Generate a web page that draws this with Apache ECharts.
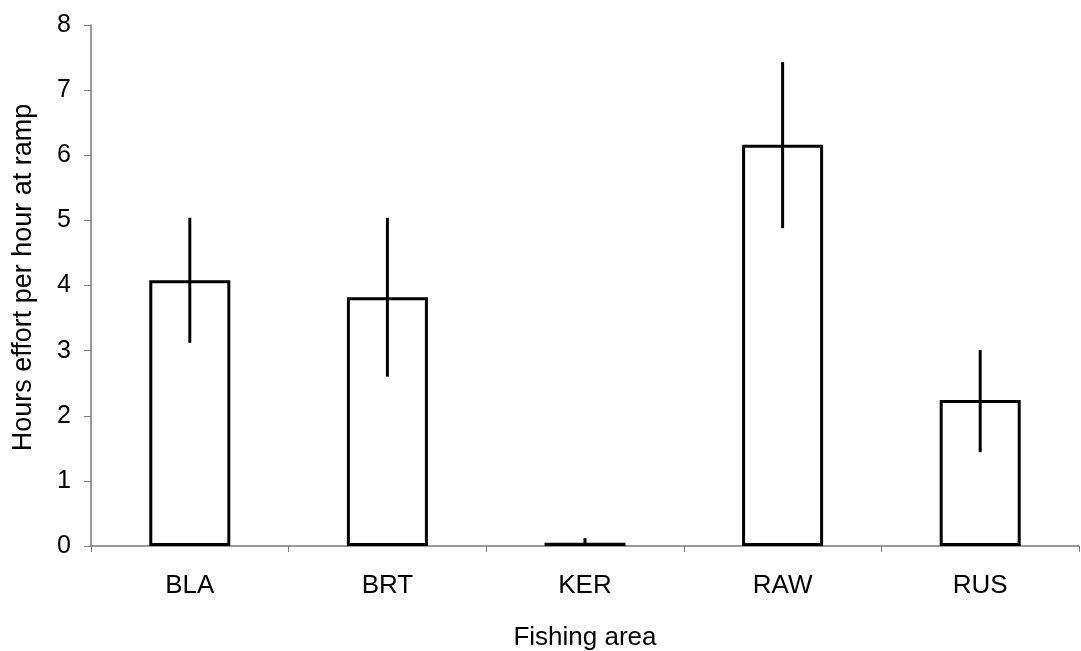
<!DOCTYPE html>
<html>
<head>
<meta charset="utf-8">
<script src="https://cdn.jsdelivr.net/npm/echarts@6/dist/echarts.min.js"></script>
<style>html,body{margin:0;padding:0;background:#fff;}#c{width:1081px;height:651px;}</style>
</head>
<body>
<div id="c"></div>
<script>
const categories = ['BLA', 'BRT', 'KER', 'RAW', 'RUS'];
const means = [4.08, 3.82, 0.05, 6.16, 2.24];
const upper = [5.04, 5.04, 0.12, 7.43, 3.01];
const lower = [3.12, 2.60, 0.00, 4.88, 1.44];
const yTicks = [0, 1, 2, 3, 4, 5, 6, 7, 8];

const chart = echarts.init(document.getElementById('c'));
const font = 'Liberation Sans, Arial, sans-serif';
chart.setOption({
  animation: false,
  backgroundColor: '#fff',
  grid: { left: 91, right: 2, top: 25, bottom: 105, containLabel: false, outerBoundsMode: 'none' },
  xAxis: {
    type: 'category',
    data: categories,
    name: 'Fishing area',
    nameLocation: 'middle',
    nameGap: 79,
    nameTextStyle: { fontFamily: font, fontSize: 26, color: '#000' },
    axisLine: { lineStyle: { color: '#7a7a7a', width: 1.5 } },
    axisTick: { show: true, inside: false, length: 6, lineStyle: { color: '#7a7a7a' } },
    axisLabel: { fontFamily: font, fontSize: 26, color: '#000', margin: 27 }
  },
  yAxis: {
    type: 'value',
    min: yTicks[0],
    max: yTicks[yTicks.length - 1],
    interval: 1,
    name: 'Hours effort per hour at ramp',
    nameLocation: 'middle',
    nameGap: 54,
    nameTextStyle: { fontFamily: font, fontSize: 27, color: '#000', padding: [0, 0, 0, 16] },
    axisLine: { show: true, lineStyle: { color: '#7a7a7a', width: 1.5 } },
    axisTick: { show: true, length: 7, lineStyle: { color: '#7a7a7a' } },
    axisLabel: { fontFamily: font, fontSize: 25, color: '#000', margin: 20 },
    splitLine: { show: false }
  },
  series: [
    {
      type: 'bar',
      data: means,
      barWidth: '41%',
      itemStyle: { color: '#fff', borderColor: '#000', borderWidth: 3 },
      z: 2
    },
    {
      type: 'custom',
      z: 3,
      data: categories.map((c, i) => [i, lower[i], upper[i]]),
      renderItem: function (params, api) {
        const p1 = api.coord([api.value(0), api.value(1)]);
        const p2 = api.coord([api.value(0), api.value(2)]);
        return {
          type: 'line',
          shape: { x1: p1[0], y1: p1[1], x2: p2[0], y2: p2[1] },
          style: { stroke: '#000', lineWidth: 3 }
        };
      }
    }
  ]
});
</script>
</body>
</html>
